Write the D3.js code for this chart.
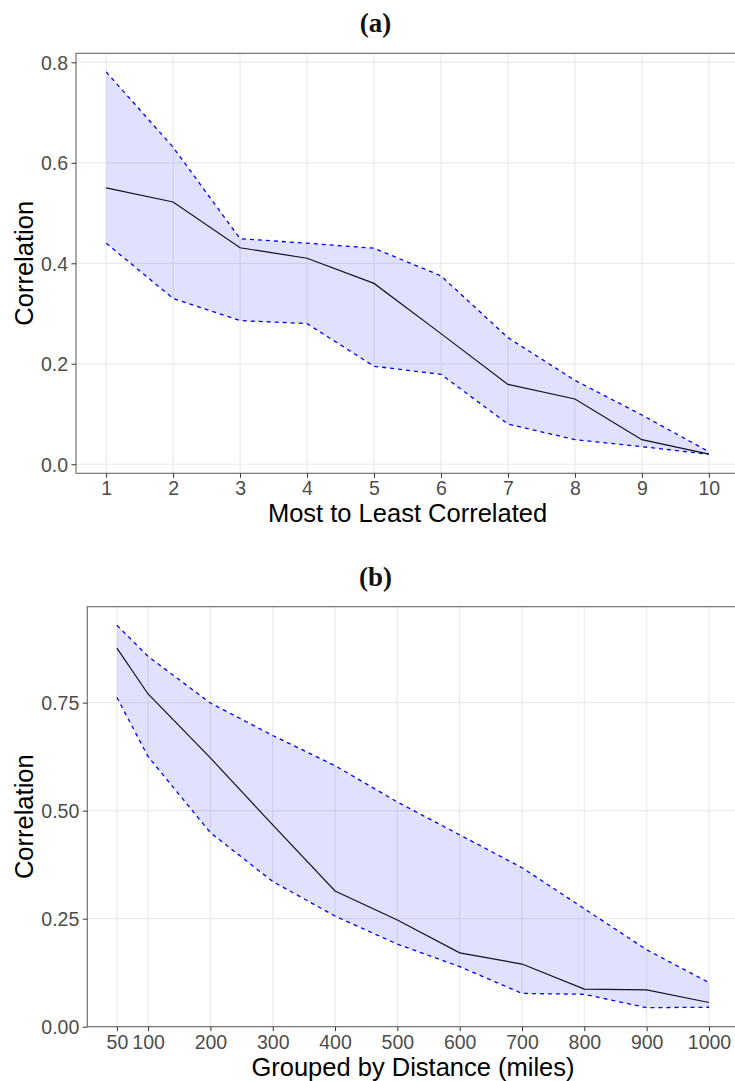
<!DOCTYPE html>
<html>
<head>
<meta charset="utf-8">
<script src="https://cdn.jsdelivr.net/npm/d3@7"></script>
<style>
  html, body { margin: 0; padding: 0; background: #fff; }
  svg { display: block; }
  .tick text { font-family: "Liberation Sans", Arial, sans-serif; }
</style>
</head>
<body>
<div id="chart"></div>
<script>
// Panel (a): correlation of ranked pairs, most to least correlated
const rankA  = [1, 2, 3, 4, 5, 6, 7, 8, 9, 10];
const meanA  = [0.550, 0.522, 0.431, 0.410, 0.360, 0.260, 0.159, 0.130, 0.049, 0.020];
const upperA = [0.781, 0.631, 0.449, 0.440, 0.430, 0.375, 0.252, 0.167, 0.098, 0.025];
const lowerA = [0.440, 0.330, 0.286, 0.280, 0.195, 0.179, 0.080, 0.049, 0.035, 0.020];
const yTicksA = [0.0, 0.2, 0.4, 0.6, 0.8];

// Panel (b): correlation grouped by distance (miles)
const distB  = [50, 100, 200, 300, 400, 500, 600, 700, 800, 900, 1000];
const meanB  = [0.876, 0.770, 0.622, 0.467, 0.314, 0.247, 0.171, 0.145, 0.087, 0.085, 0.056];
const upperB = [0.929, 0.857, 0.749, 0.674, 0.604, 0.520, 0.444, 0.368, 0.273, 0.178, 0.102];
const lowerB = [0.762, 0.625, 0.449, 0.336, 0.256, 0.191, 0.139, 0.077, 0.075, 0.044, 0.045];
const yTicksB = [0.00, 0.25, 0.50, 0.75];

const W = 735, H = 1081;
const svg = d3.select("#chart").append("svg").attr("width", W).attr("height", H);

function panel(cfg) {
  const { left, right, top, bottom, xDomain, yDomain, xs, mean, upper, lower,
          xTicks, yTicks, yFmt, title, titleY, xTitle, xTitleY, tickLabelY } = cfg;
  const x = d3.scaleLinear().domain(xDomain).range([left, right]);
  const y = d3.scaleLinear().domain(yDomain).range([bottom, top]);
  const g = svg.append("g");

  // grid
  g.append("g").selectAll("line").data(xTicks).join("line")
    .attr("x1", d => x(d)).attr("x2", d => x(d))
    .attr("y1", top).attr("y2", bottom)
    .attr("stroke", "#ebebeb").attr("stroke-width", 1.2);
  g.append("g").selectAll("line").data(yTicks).join("line")
    .attr("x1", left).attr("x2", right)
    .attr("y1", d => y(d)).attr("y2", d => y(d))
    .attr("stroke", "#ebebeb").attr("stroke-width", 1.2);

  const rows = xs.map((v, i) => ({ x: v, m: mean[i], u: upper[i], l: lower[i] }));

  // ribbon
  g.append("path").datum(rows)
    .attr("d", d3.area().x(d => x(d.x)).y0(d => y(d.l)).y1(d => y(d.u)))
    .attr("fill", "rgb(0,0,255)").attr("fill-opacity", 0.12);

  // bounds
  ["u", "l"].forEach(k => {
    g.append("path").datum(rows)
      .attr("d", d3.line().x(d => x(d.x)).y(d => y(d[k])))
      .attr("fill", "none").attr("stroke", "#0000ff")
      .attr("stroke-width", 1.3).attr("stroke-dasharray", "4,4");
  });

  // mean
  g.append("path").datum(rows)
    .attr("d", d3.line().x(d => x(d.x)).y(d => y(d.m)))
    .attr("fill", "none").attr("stroke", "#111122").attr("stroke-width", 1.2);

  // border
  g.append("rect").attr("x", left).attr("y", top)
    .attr("width", right - left).attr("height", bottom - top)
    .attr("fill", "none").attr("stroke", "#666").attr("stroke-width", 1.1);

  // axes
  const ax = g.append("g").attr("transform", `translate(0,${bottom})`)
    .call(d3.axisBottom(x).tickValues(xTicks).tickSize(4.5).tickPadding(3).tickFormat(d3.format("d")));
  ax.select(".domain").remove();
  ax.selectAll(".tick line").attr("stroke", "#333");
  ax.selectAll(".tick text").attr("fill", "#4d4d4d").attr("font-size", "19.5px")
    .attr("y", null).attr("dy", null)
    .attr("transform", `translate(0,${tickLabelY - bottom})`);

  const ay = g.append("g").attr("transform", `translate(${left},0)`)
    .call(d3.axisLeft(y).tickValues(yTicks).tickSize(4.5).tickPadding(3.5).tickFormat(d3.format(yFmt)));
  ay.select(".domain").remove();
  ay.selectAll(".tick line").attr("stroke", "#333");
  ay.selectAll(".tick text").attr("fill", "#4d4d4d").attr("font-size", "19.5px")
    .attr("dy", "0.35em");

  // titles
  svg.append("text").attr("x", 375.5).attr("y", titleY)
    .attr("text-anchor", "middle")
    .attr("font-family", "'Liberation Serif', 'DejaVu Serif', serif")
    .attr("font-weight", "bold").attr("font-size", "27px").attr("fill", "#111")
    .text(title);

  svg.append("text").attr("x", (left + right) / 2).attr("y", xTitleY)
    .attr("text-anchor", "middle")
    .attr("font-family", "'Liberation Sans', Arial, sans-serif")
    .attr("font-size", "25.5px").attr("fill", "#000")
    .text(xTitle);

  svg.append("text")
    .attr("transform", `translate(33,${(top + bottom) / 2}) rotate(-90)`)
    .attr("text-anchor", "middle")
    .attr("font-family", "'Liberation Sans', Arial, sans-serif")
    .attr("font-size", "25.5px").attr("fill", "#000")
    .text("Correlation");
}

panel({
  left: 76, right: 739, top: 53.3, bottom: 473.3,
  xDomain: [0.55, 10.45], yDomain: [-0.018, 0.818],
  xs: rankA, mean: meanA, upper: upperA, lower: lowerA,
  xTicks: rankA, yTicks: yTicksA, yFmt: ".1f",
  title: "(a)", titleY: 32, xTitle: "Most to Least Correlated", xTitleY: 522,
  tickLabelY: 495
});

panel({
  left: 87.3, right: 738.6, top: 606.7, bottom: 1026.7,
  xDomain: [2.5, 1047.5], yDomain: [0, 0.972],
  xs: distB, mean: meanB, upper: upperB, lower: lowerB,
  xTicks: distB, yTicks: yTicksB, yFmt: ".2f",
  title: "(b)", titleY: 586, xTitle: "Grouped by Distance (miles)", xTitleY: 1076,
  tickLabelY: 1049
});
</script>
</body>
</html>
